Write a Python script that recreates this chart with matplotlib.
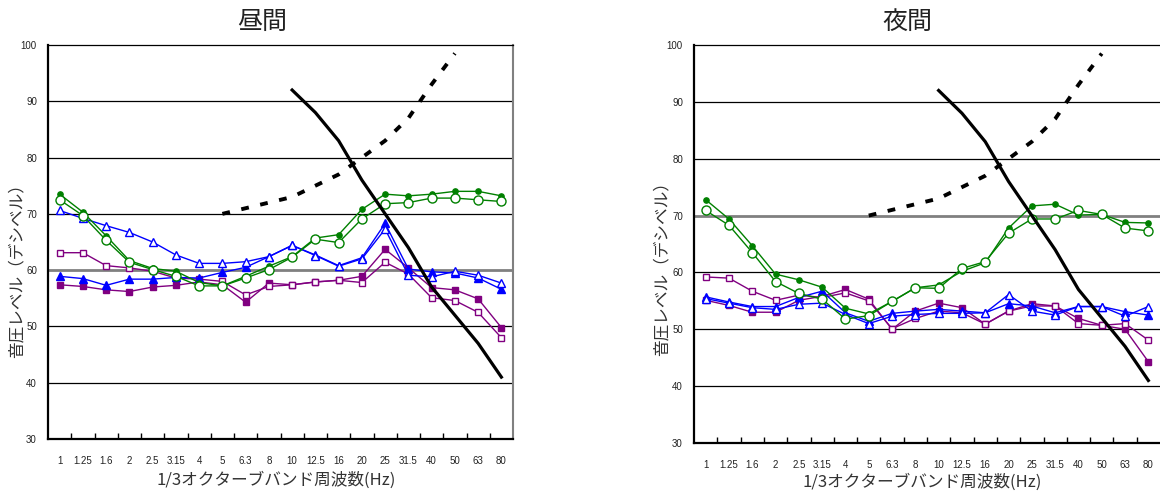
import matplotlib
matplotlib.use('Agg')
import matplotlib.pyplot as plt
import numpy as np

plt.rcParams['font.family'] = ['Liberation Sans', 'Noto Sans CJK JP', 'DejaVu Sans']

bands = ['1', '1.25', '1.6', '2', '2.5', '3.15', '4', '5', '6.3', '8',
         '10', '12.5', '16', '20', '25', '31.5', '40', '50', '63', '80']

# 参照値 (心身 / 物的)
ref_mind_bands = ['10', '12.5', '16', '20', '25', '31.5', '40', '50', '63', '80']
ref_mind = [92, 88, 83, 76, 70, 64, 57, 52, 47, 41]
ref_obj_bands = ['5', '6.3', '8', '10', '12.5', '16', '20', '25', '31.5', '40', '50']
ref_obj = [70, 71, 72, 73, 75, 77, 80, 83, 87, 93, 98.5]

# 昼間
day_green_fill = [73.5, 70.3, 66.1, 61.7, 60.3, 59.8, 57.8, 57.2, 58.9, 60.7,
                  62.4, 65.7, 66.3, 70.8, 73.5, 73.2, 73.5, 74.0, 74.0, 73.2]
day_green_open = [72.5, 69.7, 65.3, 61.4, 60.1, 58.9, 57.2, 57.2, 58.6, 60.1,
                  62.3, 65.5, 64.9, 69.1, 71.8, 72.0, 72.8, 72.8, 72.5, 72.2]
day_blue_open = [70.6, 69.2, 67.9, 66.7, 65.0, 62.7, 61.2, 61.2, 61.5, 62.4,
                 64.4, 62.6, 60.7, 62.0, 67.3, 59.1, 58.8, 59.8, 59.1, 57.7]
day_blue_fill = [58.9, 58.5, 57.3, 58.4, 58.4, 58.7, 58.6, 59.6, 60.5, 62.4,
                 64.4, 62.7, 60.8, 62.2, 68.3, 60.2, 59.7, 59.5, 58.6, 56.6]
day_purple_open = [63.1, 63.1, 60.8, 60.4, 59.8, 58.6, 58.4, 58.0, 55.6, 57.1,
                   57.4, 57.9, 58.2, 57.8, 61.4, 59.3, 55.1, 54.6, 52.5, 48.0]
day_purple_fill = [57.4, 57.1, 56.5, 56.2, 57.0, 57.3, 57.9, 57.4, 54.3, 57.7,
                   57.4, 57.9, 58.2, 58.9, 63.7, 60.4, 56.9, 56.5, 54.9, 49.8]

# 夜間
night_green_fill = [72.8, 69.4, 64.7, 59.7, 58.7, 57.4, 53.7, 52.7, 54.9, 57.3,
                    57.8, 60.2, 61.7, 67.8, 71.7, 72.0, 70.1, 70.2, 68.8, 68.7]
night_green_open = [70.9, 68.3, 63.5, 58.4, 56.3, 55.3, 51.8, 52.4, 54.9, 57.3,
                    57.2, 60.7, 61.9, 66.9, 69.4, 69.4, 70.9, 70.2, 67.8, 67.3]
night_blue_open = [55.4, 54.6, 53.8, 53.5, 54.4, 54.6, 52.6, 51.0, 52.3, 52.6,
                   52.8, 52.8, 52.9, 56.1, 53.2, 52.5, 54.0, 54.0, 52.3, 54.0]
night_blue_fill = [55.7, 54.8, 54.0, 54.0, 55.6, 56.7, 52.9, 51.4, 52.8, 53.2,
                   53.5, 53.2, 52.9, 54.5, 54.1, 52.9, 54.0, 54.0, 53.1, 52.5]
night_purple_open = [59.2, 59.0, 56.7, 55.1, 56.0, 55.6, 56.4, 55.0, 50.1, 51.9,
                     53.2, 52.9, 50.9, 53.2, 54.1, 54.1, 51.0, 50.7, 51.0, 48.1]
night_purple_fill = [55.1, 54.2, 53.0, 53.0, 55.1, 55.8, 57.0, 55.3, 50.0, 53.2,
                     54.6, 53.8, 50.9, 53.2, 54.5, 54.1, 51.9, 50.7, 50.0, 44.3]

GREEN = '#008000'
BLUE = '#0000FF'
PURPLE = '#800080'

x = np.arange(len(bands))
xm = [bands.index(b) for b in ref_mind_bands]
xo = [bands.index(b) for b in ref_obj_bands]

fig = plt.figure(figsize=(11.6, 4.95), dpi=100)
W, H = 1160, 495


def draw_panel(ax, series, gray_level, right_spine):
    ax.set_xlim(-0.5, 19.5)
    ax.set_ylim(30, 100)
    for v in range(40, 100, 10):
        if v == gray_level:
            ax.axhline(v, color='#808080', lw=2.0, zorder=1)
        else:
            ax.axhline(v, color='black', lw=0.9, zorder=1)

    for vals, color, marker, ms, filled in series:
        ax.plot(x, vals, color=color, lw=1.0, marker=marker, markersize=ms,
                markerfacecolor=color if filled else 'white',
                markeredgecolor=color, markeredgewidth=1.0, zorder=3)

    ax.plot(xm, ref_mind, color='black', lw=2.3, zorder=5)
    ax.plot(xo, ref_obj, color='black', lw=2.8, dashes=(2.0, 3.0), zorder=5)

    ax.set_yticks(range(30, 101, 10))
    ax.tick_params(axis='y', length=0, pad=8, labelsize=7, labelcolor='#222222')
    ax.set_xticks(x)
    ax.set_xticklabels(bands)
    ax.tick_params(axis='x', which='major', length=0, pad=12, labelsize=7,
                   labelcolor='#222222')
    ax.set_xticks(np.arange(0.5, 19, 1), minor=True)
    ax.tick_params(axis='x', which='minor', direction='in', length=4, width=1,
                   color='black')

    ax.spines['left'].set_linewidth(1.6)
    ax.spines['bottom'].set_linewidth(1.6)
    ax.spines['top'].set_linewidth(0.9)
    if right_spine:
        ax.spines['right'].set_color('#808080')
        ax.spines['right'].set_linewidth(1.5)
    else:
        ax.spines['right'].set_visible(False)


day_series = [
    (day_purple_fill, PURPLE, 's', 4.5, True),
    (day_purple_open, PURPLE, 's', 4.5, False),
    (day_blue_fill, BLUE, '^', 5.5, True),
    (day_blue_open, BLUE, '^', 5.5, False),
    (day_green_fill, GREEN, 'o', 3.8, True),
    (day_green_open, GREEN, 'o', 6.5, False),
]
night_series = [
    (night_purple_fill, PURPLE, 's', 4.5, True),
    (night_purple_open, PURPLE, 's', 4.5, False),
    (night_blue_fill, BLUE, '^', 5.5, True),
    (night_blue_open, BLUE, '^', 5.5, False),
    (night_green_fill, GREEN, 'o', 3.8, True),
    (night_green_open, GREEN, 'o', 6.5, False),
]

ax1 = fig.add_axes([48 / W, (H - 439) / H, 465 / W, 394 / H])
draw_panel(ax1, day_series, 60, True)
ax2 = fig.add_axes([694 / W, (H - 443) / H, 466 / W, 398 / H])
draw_panel(ax2, night_series, 70, False)

cjk = ['Noto Sans CJK JP', 'DejaVu Sans']
fig.text(262 / W, 1 - 22 / H, '昼間', ha='center', va='center', fontsize=18,
         family=cjk, color='#222222')
fig.text(907 / W, 1 - 22 / H, '夜間', ha='center', va='center', fontsize=18,
         family=cjk, color='#222222')
for xl, yc in [(17, 267), (662, 265)]:
    fig.text(xl / W, 1 - yc / H, '音圧レベル（デシベル）', rotation=90,
             ha='center', va='center', fontsize=12, family=cjk, color='#333333')
for xc, yc in [(276, 480), (922, 482)]:
    fig.text(xc / W, 1 - yc / H, '1/3オクターブバンド周波数(Hz)', ha='center',
             va='center', fontsize=12, family=cjk, color='#333333')

fig.savefig('out.png', dpi=100)
